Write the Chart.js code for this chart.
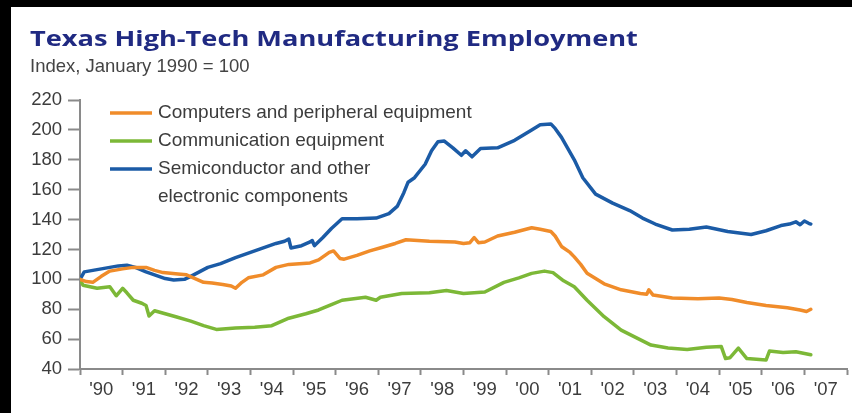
<!DOCTYPE html>
<html>
<head>
<meta charset="utf-8">
<script src="https://cdn.jsdelivr.net/npm/chart.js@4.4.0/dist/chart.umd.min.js"></script>
<style>
  html, body { margin: 0; padding: 0; background: #fff; }
  #wrap { position: relative; width: 852px; height: 413px; overflow: hidden; background: #fff; }
  #chart { position: absolute; left: 0; top: 0; }
  .edge { position: absolute; background: #000; z-index: 3; }
  #title {
    position: absolute; left: 30px; top: 22px; line-height: 1; white-space: nowrap;
    font: 700 22px "Open Sans", "DejaVu Sans", sans-serif; color: #202a82;
    transform-origin: 0 0;
  }
  #subtitle {
    position: absolute; left: 30px; top: 55px; line-height: 1; white-space: nowrap;
    font: 18.5px "Liberation Sans", Arial, sans-serif; color: #444;
  }
</style>
</head>
<body>
<div id="wrap">
  <canvas id="chart" width="852" height="413"></canvas>
  <div class="edge" style="left:0;top:0;width:852px;height:7px"></div>
  <div class="edge" style="left:0;top:0;width:11px;height:413px"></div>
  <div id="title">Texas High-Tech Manufacturing Employment</div>
  <div id="subtitle">Index, January 1990 = 100</div>
</div>
<script>
/* valores (índice, jan/1990 = 100), x em anos decimais */
const yearLabels = ["'90","'91","'92","'93","'94","'95","'96","'97","'98","'99","'00","'01","'02","'03","'04","'05","'06","'07"];
const firstYear = 1990;

const compYears = [1990.0,1990.15,1990.3,1990.5,1990.7,1991.0,1991.25,1991.55,1991.75,1991.95,
  1992.3,1992.5,1992.7,1992.9,1993.1,1993.35,1993.55,1993.65,1993.8,1993.95,
  1994.3,1994.6,1994.9,1995.4,1995.6,1995.85,1995.95,1996.1,1996.2,1996.5,
  1996.8,1997.1,1997.4,1997.65,1998.2,1998.8,1999.0,1999.15,1999.25,1999.35,
  1999.5,1999.8,2000.2,2000.6,2000.8,2001.05,2001.15,2001.3,2001.5,2001.6,
  2001.75,2001.9,2002.3,2002.7,2003.15,2003.3,2003.35,2003.45,2003.9,2004.5,
  2005.0,2005.3,2005.65,2006.1,2006.6,2006.9,2007.05,2007.15];
const compIndex = [100,98.5,98,102,105.5,107,108,108,106,104.5,
  103.5,103,100.5,98,97.5,96.5,95.5,94,98,101,
  103,108,110,111,113,118,119,114,113.5,116,
  119,121.5,124,126.5,125.5,125,124,124.5,128,124.5,
  125,129,131.5,134.5,133.5,132,129,122,118,115,
  110,104,97,93,90.5,90,93,89.5,87.5,87,
  87.5,86.5,84.5,82.5,81,79.5,78.5,80];

const commYears = [1990.0,1990.07,1990.4,1990.7,1990.85,1991.0,1991.1,1991.25,1991.45,1991.55,
  1991.62,1991.75,1992.0,1992.25,1992.6,1992.9,1993.2,1993.65,1994.1,1994.5,
  1994.9,1995.3,1995.6,1995.9,1996.15,1996.7,1996.95,1997.05,1997.55,1998.2,
  1998.6,1999.0,1999.5,1999.95,2000.3,2000.6,2000.9,2001.1,2001.35,2001.6,
  2001.9,2002.3,2002.7,2003.05,2003.4,2003.8,2004.25,2004.7,2005.05,2005.15,
  2005.25,2005.45,2005.65,2006.1,2006.18,2006.5,2006.8,2007.15];
const commIndex = [100,96,94,95,89,94,91,86,84,82.5,
  75.5,79,77,75,72,69,66.5,67.5,68,69,
  74,77,79.5,83,86,88,86,88,90.5,91,
  92.5,90.5,91.5,98,101,104,105.5,104.5,99,95,
  86,75,66,61,56,54,53,54.5,55,47,
  47.5,54,47,46,52,51,51.5,49.5];

const semiYears = [1990.0,1990.1,1990.3,1990.6,1990.9,1991.1,1991.3,1991.55,1991.75,1992.0,
  1992.2,1992.45,1992.6,1992.8,1993.0,1993.3,1993.65,1994.0,1994.3,1994.6,
  1994.8,1994.9,1994.95,1995.2,1995.4,1995.45,1995.5,1995.7,1995.9,1996.15,
  1996.5,1996.95,1997.25,1997.45,1997.6,1997.7,1997.85,1998.1,1998.25,1998.4,
  1998.55,1998.75,1998.95,1999.05,1999.2,1999.4,1999.8,2000.2,2000.6,2000.8,
  2001.05,2001.15,2001.3,2001.6,2001.8,2002.1,2002.5,2002.9,2003.2,2003.5,
  2003.9,2004.3,2004.7,2005.2,2005.75,2006.1,2006.45,2006.65,2006.8,2006.9,
  2007.0,2007.1,2007.15];
const semiIndex = [100,105,106,107.5,109,109.5,108,105,103,100.5,
  99.5,100,102,105,108,110.5,114.5,118,121,124,
  125.5,127,121,122.5,125,126,122.5,128,134,140.5,
  140.5,141,144,149,158,165,168,177,186,192,
  192.5,188,183,186,182,187.5,188,193,200,203.5,
  204,201,195,180,168,157,151,146,141,137,
  133,133.5,135,132,130,132.5,136,137,138.5,136.5,
  139,137.5,137];

const yTicks = { min: 40, max: 220, step: 20 };

const ORANGE = '#f08c2a', GREEN = '#7cb837', BLUE = '#1b5ba6', AXIS = '#8a8a8a', TEXT = '#3c3c3c';
const FONT = '"Liberation Sans", Arial, sans-serif';

function pairs(xs, ys){
  const n = Math.min(xs.length, ys.length);
  const out = [];
  for(let i = 0; i < n; i++) out.push({ x: xs[i], y: ys[i] });
  return out;
}

// ticks: fronteiras de ano (só marca) + meio do ano (só rótulo)
const tickLabelAt = new Map();
const xTickValues = [];
for(let i = 0; i <= yearLabels.length; i++) xTickValues.push(firstYear + i);
yearLabels.forEach((lab, i) => { const v = firstYear + i + 0.5; xTickValues.push(v); tickLabelAt.set(v, lab); });
xTickValues.sort((a, b) => a - b);

const insetLegend = {
  id: 'insetLegend',
  afterDatasetsDraw(chart){
    const c = chart.ctx;
    c.save();
    c.font = '19px ' + FONT;
    c.textBaseline = 'middle';
    c.lineCap = 'butt';
    let y = 113;
    chart.data.datasets.forEach(ds => {
      c.strokeStyle = ds.borderColor; c.lineWidth = 3.5;
      c.beginPath(); c.moveTo(110, y); c.lineTo(152, y); c.stroke();
      c.fillStyle = TEXT;
      ds.label.split('\n').forEach(line => { c.fillText(line, 158, y); y += 28; });
    });
    c.restore();
  }
};

const ctx = document.getElementById('chart').getContext('2d');
new Chart(ctx, {
  type: 'line',
  data: { datasets: [
    { label: 'Computers and peripheral equipment', data: pairs(compYears, compIndex), borderColor: ORANGE },
    { label: 'Communication equipment', data: pairs(commYears, commIndex), borderColor: GREEN },
    { label: 'Semiconductor and other\nelectronic components', data: pairs(semiYears, semiIndex), borderColor: BLUE },
  ]},
  options: {
    responsive: false, animation: false,
    layout: { padding: { left: 0, right: 5, top: 100, bottom: 0 } },
    elements: {
      point: { radius: 0 },
      line: { borderWidth: 3.5, tension: 0, borderJoinStyle: 'round', borderCapStyle: 'round' }
    },
    plugins: { legend: { display: false }, tooltip: { enabled: false } },
    scales: {
      x: {
        type: 'linear', min: firstYear, max: firstYear + yearLabels.length,
        afterBuildTicks: s => { s.ticks = xTickValues.map(v => ({ value: v })); },
        afterFit: s => { s.height = 44; },
        ticks: {
          autoSkip: false, maxRotation: 0, padding: 4, color: TEXT,
          font: { family: FONT, size: 18.5 },
          callback: v => tickLabelAt.get(v) || ''
        },
        grid: {
          drawOnChartArea: false, tickLength: 6, tickWidth: 2,
          tickColor: c => (c.tick && tickLabelAt.has(c.tick.value)) ? 'rgba(0,0,0,0)' : AXIS
        },
        border: { color: AXIS, width: 2 }
      },
      y: {
        min: yTicks.min, max: yTicks.max,
        afterFit: s => { s.width = 80; },
        ticks: { stepSize: yTicks.step, padding: 6, color: TEXT, font: { family: FONT, size: 18.5 } },
        grid: { drawOnChartArea: false, tickLength: 12, tickWidth: 2, tickColor: AXIS },
        border: { color: AXIS, width: 2 }
      }
    }
  },
  plugins: [insetLegend]
});

// título esticado na horizontal como no original
const title = document.getElementById('title');
title.style.transform = 'scaleX(' + (608 / title.offsetWidth).toFixed(3) + ')';
</script>
</body>
</html>
